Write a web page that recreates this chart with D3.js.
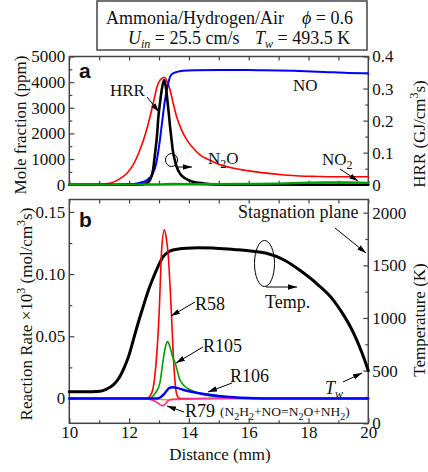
<!DOCTYPE html>
<html><head><meta charset="utf-8">
<script src="https://cdn.jsdelivr.net/npm/d3@7"></script>
<style>
body{margin:0;background:#fff}
svg{display:block}
text,tspan{font-family:"Liberation Serif","Times New Roman",serif;fill:#111}
</style>
</head><body>
<svg id="c" width="428" height="472" font-family="Liberation Serif, serif"></svg>
<script>
// ---------- DATA ----------
// Panel a: mole fractions (ppm) vs distance (mm)
const noPpm = [[10,0],[11.5,0],[12.0,15],[12.3,60],[12.6,180],[12.8,450],[12.9,800],[13.03,1743],[13.1,2400],[13.2,3300],[13.3,3900],[13.37,4210],[13.45,4330],[13.6,4400],[13.8,4440],[14.2,4460],[15,4470],[16,4470],[16.5,4465],[17.5,4440],[18.5,4400],[19.3,4360],[20,4340]];
const n2oPpm = [[10,0],[10.8,5],[11.0,15],[11.36,60],[11.6,170],[11.93,450],[12.15,800],[12.36,1350],[12.55,2000],[12.7,2650],[12.83,3300],[12.93,3800],[13.05,4100],[13.18,4190],[13.28,4000],[13.37,3700],[13.47,3200],[13.59,2650],[13.75,2150],[13.93,1750],[14.15,1420],[14.37,1160],[14.65,980],[14.93,830],[15.5,640],[16,540],[16.6,450],[17.2,380],[17.7,340],[18.3,320],[18.8,310],[20,310]];
const no2Ppm = [[10,5],[12,8],[13,15],[13.5,30],[14.5,25],[16,30],[17,45],[17.8,70],[18.5,90],[19.2,90],[20,75]];
// Heat release rate (GJ/cm^3 s)
const hrr = [[10,0],[12.0,0],[12.4,0.001],[12.6,0.006],[12.7,0.015],[12.8,0.045],[12.87,0.099],[12.93,0.15],[12.98,0.212],[13.04,0.26],[13.09,0.295],[13.17,0.327],[13.22,0.31],[13.28,0.264],[13.33,0.22],[13.37,0.181],[13.42,0.14],[13.46,0.108],[13.52,0.08],[13.59,0.056],[13.7,0.035],[13.87,0.02],[14.1,0.01],[14.5,0.004],[15,0.001],[16,0],[20,0]];
// Panel b: temperature (K)
const temp = [[10,300],[10.5,300],[11.03,305],[11.25,325],[11.47,364],[11.65,425],[11.8,506],[12.0,650],[12.14,790],[12.3,950],[12.47,1107],[12.63,1250],[12.8,1377],[12.97,1490],[13.14,1582],[13.3,1625],[13.47,1645],[13.7,1657],[13.91,1663],[14.3,1668],[14.8,1665],[15.5,1650],[16.0,1638],[16.6,1614],[17.2,1548],[17.7,1455],[18.3,1320],[18.83,1170],[19.1,1060],[19.4,917],[19.6,800],[19.8,660],[20,500]];
// Reaction rates x10^3 (mol/cm^3 s)
const r58 = [[10,0],[12.6,0],[12.7,0.002],[12.8,0.008],[12.9,0.028],[13.0,0.066],[13.09,0.12],[13.18,0.1356],[13.25,0.128],[13.31,0.115],[13.37,0.09],[13.42,0.066],[13.47,0.039],[13.53,0.015],[13.61,0.002],[13.7,0],[20,0]];
const r105 = [[10,0],[12.7,0],[12.76,0.001],[12.9,0.005],[13.03,0.0125],[13.14,0.031],[13.22,0.042],[13.29,0.0457],[13.36,0.042],[13.45,0.034],[13.54,0.0285],[13.7,0.015],[13.85,0.01],[14.04,0.007],[14.5,0.003],[15,0.0012],[15.5,0.0003],[16,0],[20,0]];
const r106 = [[10,0],[12.95,0],[13.05,0.001],[13.15,0.003],[13.25,0.006],[13.35,0.0085],[13.45,0.009],[13.6,0.0085],[13.8,0.007],[14.0,0.0058],[14.5,0.0036],[15,0.002],[15.5,0.0009],[16,0.0003],[16.5,0],[20,0]];
const r79 = [[10,0],[12.6,0],[12.7,-0.0008],[12.85,-0.002],[12.95,-0.0035],[13.05,-0.0052],[13.12,-0.0058],[13.2,-0.0048],[13.28,-0.0025],[13.35,-0.0012],[13.5,-0.0008],[14,-0.0005],[14.5,-0.0002],[15,0],[20,0]];
const rOther = [[12.9,0],[13.1,-0.0008],[13.3,-0.001],[13.5,-0.0006],[13.7,0]];
// Ticks
const xTicks = [10,12,14,16,18,20];
const ppmTicks = [0,1000,2000,3000,4000,5000];
const hrrTicks = [0,0.1,0.2,0.3,0.4];
const rateTicks = [0,0.05,0.10,0.15];
const tempTicks = [0,500,1000,1500,2000];

// ---------- LAYOUT ----------
const FONT = '"Liberation Serif","Times New Roman",serif';
const svg = d3.select('#c');
const L = 69.3, R = 368.3;
const aTop = 56.5, aBot = 184.7, bTop = 199.5, bBot = 423.3;
const x = d3.scaleLinear().domain([10,20]).range([L,R]);
const yA = d3.scaleLinear().domain([0,5000]).range([aBot,aTop]);
const yH = d3.scaleLinear().domain([0,0.4]).range([aBot,aTop]);
const yB = d3.scaleLinear().domain([-0.02,0.16]).range([bBot,bTop]);
const yT = d3.scaleLinear().domain([0,2125]).range([bBot,bTop]);
const axisCol = '#444';

const defs = svg.append('defs');
defs.append('marker').attr('id','ah').attr('viewBox','0 0 10 6').attr('refX',10).attr('refY',3)
  .attr('markerWidth',9).attr('markerHeight',5.4).attr('markerUnits','userSpaceOnUse').attr('orient','auto')
  .append('path').attr('d','M0,0L10,3L0,6z').attr('fill','#000');

function frame(top,bot){
  svg.append('rect').attr('x',L).attr('y',top).attr('width',R-L).attr('height',bot-top)
    .attr('fill','none').attr('stroke',axisCol).attr('stroke-width',1.5);
}
function styleAxis(g){
  g.attr('font-family',null).attr('font-size',null);
  g.select('.domain').remove();
  g.selectAll('.tick line').attr('stroke',axisCol).attr('stroke-width',1.2);
  g.selectAll('.tick text').style('font-family',FONT).style('font-size','17px').attr('fill','#111');
  return g;
}
function fmtRate(d){ return d===0 ? '0' : d3.format('.2f')(d); }

frame(aTop,aBot); frame(bTop,bBot);

// panel a axes
styleAxis(svg.append('g').attr('transform',`translate(${L},0)`).call(d3.axisLeft(yA).tickValues(ppmTicks).tickSize(-5).tickPadding(4).tickFormat(d3.format('d'))));
styleAxis(svg.append('g').attr('transform',`translate(${L},0)`).call(d3.axisLeft(yA).tickValues(d3.range(500,5000,1000)).tickSize(-3).tickFormat('')));
styleAxis(svg.append('g').attr('transform',`translate(${R},0)`).call(d3.axisRight(yH).tickValues(hrrTicks).tickSize(-5).tickPadding(4).tickFormat(d=>d===0?'0':d3.format('.1f')(d))));
styleAxis(svg.append('g').attr('transform',`translate(${R},0)`).call(d3.axisRight(yH).tickValues([0.05,0.15,0.25,0.35]).tickSize(-3).tickFormat('')));
styleAxis(svg.append('g').attr('transform',`translate(0,${aTop})`).call(d3.axisTop(x).tickValues(d3.range(10,21,1)).tickSize(-4).tickFormat('')));
styleAxis(svg.append('g').attr('transform',`translate(0,${aBot})`).call(d3.axisBottom(x).tickValues(d3.range(10,21,1)).tickSize(-4).tickFormat('')));

// panel b axes
styleAxis(svg.append('g').attr('transform',`translate(${L},0)`).call(d3.axisLeft(yB).tickValues(rateTicks).tickSize(-5).tickPadding(4).tickFormat(fmtRate)));
styleAxis(svg.append('g').attr('transform',`translate(${L},0)`).call(d3.axisLeft(yB).tickValues([0.025,0.075,0.125]).tickSize(-3).tickFormat('')));
styleAxis(svg.append('g').attr('transform',`translate(${R},0)`).call(d3.axisRight(yT).tickValues(tempTicks).tickSize(-5).tickPadding(4).tickFormat(d3.format('d'))));
styleAxis(svg.append('g').attr('transform',`translate(${R},0)`).call(d3.axisRight(yT).tickValues([250,750,1250,1750]).tickSize(-3).tickFormat('')));
styleAxis(svg.append('g').attr('transform',`translate(0,${bTop})`).call(d3.axisTop(x).tickValues(d3.range(10,21,1)).tickSize(-4).tickFormat('')));
styleAxis(svg.append('g').attr('transform',`translate(0,${bBot})`).call(d3.axisBottom(x).tickValues(xTicks).tickSize(-5).tickPadding(3).tickFormat(d3.format('d'))));
styleAxis(svg.append('g').attr('transform',`translate(0,${bBot})`).call(d3.axisBottom(x).tickValues([11,13,15,17,19]).tickSize(-3).tickFormat('')));

// ---------- LINES ----------
function line(data, ys, color, w, dash){
  const gen = d3.line().x(d=>x(d[0])).y(d=>ys(d[1])).curve(d3.curveMonotoneX);
  const p = svg.append('path').datum(data).attr('d',gen).attr('fill','none').attr('stroke',color)
    .attr('stroke-width',w).attr('stroke-linejoin','round').attr('stroke-linecap','round');
  if(dash) p.attr('stroke-dasharray',dash);
  return p;
}
line(n2oPpm, yA, '#ff0000', 1.6);
line(noPpm, yA, '#0000ff', 2);
line(hrr, yH, '#000', 2.6);
line(no2Ppm, yA, '#00a000', 2.2);
line(temp, yT, '#000', 3);
line(rOther, yB, '#ff9900', 1.5);
line(r58, yB, '#ff0000', 1.6);
line(r105, yB, '#00a000', 1.6);
line(r79, yB, '#ff3399', 1.8, '4,1.5');
line(r106, yB, '#0000ff', 2.4);

// ---------- ANNOTATIONS ----------
function arrow(x1,y1,x2,y2){
  svg.append('line').attr('x1',x1).attr('y1',y1).attr('x2',x2).attr('y2',y2)
    .attr('stroke','#000').attr('stroke-width',1).attr('marker-end','url(#ah)');
}
function txt(xp,yp,s,size,opts){
  const t = svg.append('text').style('font-size',(size||18)+'px').style('font-family',(opts&&opts.family)||FONT);
  if(xp!==null){ t.attr('x',xp).attr('y',yp); }
  if(opts&&opts.anchor) t.attr('text-anchor',opts.anchor);
  if(opts&&opts.weight) t.style('font-weight',opts.weight);
  if(opts&&opts.transform) t.attr('transform',opts.transform);
  if(typeof s==='string') t.text(s);
  else s.forEach(p=>{ const ts=t.append('tspan').text(p.t);
    if(p.sub){ts.attr('dy',4).style('font-size',(p.fs||12)+'px');}
    if(p.sup){ts.attr('dy',-7).style('font-size',(p.fs||12)+'px');}
    if(p.back){ts.attr('dy',p.back);}
    if(p.it) ts.style('font-style','italic');
  });
  return t;
}
// title box
svg.append('rect').attr('x',97).attr('y',1).attr('width',270).attr('height',49).attr('fill','#fff').attr('stroke',axisCol).attr('stroke-width',1.5);
txt(106,24,'Ammonia/Hydrogen/Air',18);
txt(302,24,[{t:'\u03d5',it:true},{t:' = 0.6'}],18);
txt(128,44,[{t:'U',it:true},{t:'in',it:true,sub:true},{t:' = 25.5 cm/s',back:-4}],18);
txt(255,44,[{t:'T',it:true},{t:'w',it:true,sub:true},{t:' = 493.5 K',back:-4}],18);

// panel labels
txt(79,78,'a',21,{weight:'bold',family:'"Liberation Sans",Arial,sans-serif'});
txt(79,227,'b',21,{weight:'bold',family:'"Liberation Sans",Arial,sans-serif'});

// panel a annotations
txt(110,96,'HRR',17);
arrow(147,97,159,112);
txt(293,91,'NO',17);
txt(208,164,[{t:'N'},{t:'2',sub:true},{t:'O',back:-4}],17);
svg.append('ellipse').attr('cx',171.5).attr('cy',160).attr('rx',6).attr('ry',6.5).attr('fill','none').attr('stroke','#000').attr('stroke-width',1);
arrow(176,167,192,167);
txt(322,165,[{t:'NO'},{t:'2',sub:true}],17);
arrow(340,169,358,181);

// panel b annotations
txt(238,218,'Stagnation plane',18);
arrow(335,228,366,253);
svg.append('ellipse').attr('cx',264.5).attr('cy',263.5).attr('rx',10).attr('ry',23).attr('fill','none').attr('stroke','#000').attr('stroke-width',1);
arrow(266,287,297,287);
txt(265,308,'Temp.',18);
txt(195,310,'R58',18);
arrow(195,302,171,316);
txt(203,352,'R105',18);
arrow(203,347,176,363);
txt(230,382,'R106',18);
arrow(232,383,208,392);
txt(325,394,[{t:'T',it:true},{t:'w',it:true,sub:true}],18);
arrow(343,382,362,373);
txt(185,417,'R79',18);
txt(220,416,[{t:'(N'},{t:'2',sub:true,fs:10},{t:'H',back:-4},{t:'2',sub:true,fs:10},{t:'+NO=N',back:-4},{t:'2',sub:true,fs:10},{t:'O+NH',back:-4},{t:'2',sub:true,fs:10},{t:')',back:-4}],13.5);
arrow(184,412,167,406);

// axis titles
txt(null,null,'Mole fraction (ppm)',17,{anchor:'middle',transform:'translate(26,125) rotate(-90)'});
txt(null,null,[{t:'HRR (GJ/cm'},{t:'3',sup:true},{t:'s)',back:7}],17,{anchor:'middle',transform:'translate(425,134) rotate(-90)'});
txt(null,null,'Temperature (K)',17,{anchor:'middle',transform:'translate(425,320) rotate(-90)'});
txt(null,null,[{t:'Reaction Rate \u00d710'},{t:'3',sup:true},{t:'  (mol/cm',back:7},{t:'3',sup:true},{t:'s)',back:7}],17,{anchor:'middle',transform:'translate(32,314) rotate(-90)'});
txt(220,460,'Distance (mm)',17,{anchor:'middle'});
</script>
</body></html>
